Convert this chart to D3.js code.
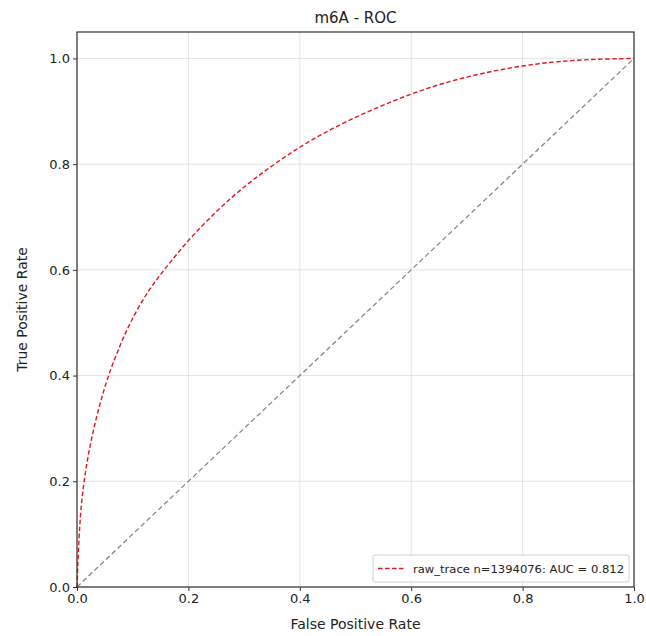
<!DOCTYPE html>
<html>
<head>
<meta charset="utf-8">
<script src="https://cdn.jsdelivr.net/npm/d3@7"></script>
<style>
  html, body { margin: 0; padding: 0; background: #fff; }
  text { font-family: "DejaVu Sans", sans-serif; fill: #222; }
</style>
</head>
<body>
<svg id="chart" width="646" height="636"></svg>
<script>
// ---- data ----
const fpr = [0, 0.001, 0.002, 0.004, 0.007, 0.0125, 0.02, 0.03, 0.042, 0.056, 0.075, 0.095, 0.125, 0.16, 0.20, 0.25, 0.30, 0.35, 0.40, 0.45, 0.50, 0.55, 0.60, 0.65, 0.70, 0.75, 0.80, 0.85, 0.90, 0.95, 1.0];
const tpr = [0, 0.03, 0.055, 0.10, 0.15, 0.20, 0.25, 0.30, 0.35, 0.40, 0.452, 0.50, 0.557, 0.605, 0.657, 0.711, 0.758, 0.797, 0.833, 0.863, 0.889, 0.912, 0.933, 0.951, 0.965, 0.977, 0.986, 0.993, 0.997, 0.999, 1.0];
const chanceX = [0, 1];
const chanceY = [0, 1];
const xTicks = [0, 0.2, 0.4, 0.6, 0.8, 1.0];
const yTicks = [0, 0.2, 0.4, 0.6, 0.8, 1.0];
const title = "m6A - ROC";
const xLabel = "False Positive Rate";
const yLabel = "True Positive Rate";
const legendLabel = "raw_trace n=1394076: AUC = 0.812";

// ---- layout ----
const margin = { left: 77, right: 12, top: 32, bottom: 49 };
const W = 646, H = 636;
const svg = d3.select("#chart");
const x = d3.scaleLinear().domain([0, 1]).range([margin.left, W - margin.right]);
const y = d3.scaleLinear().domain([0, 1.05]).range([H - margin.bottom, margin.top]);

// gridlines
svg.append("g").selectAll("line.gx").data(xTicks).join("line")
  .attr("x1", d => x(d)).attr("x2", d => x(d))
  .attr("y1", y(0)).attr("y2", y(1.05))
  .attr("stroke", "#dcdcdc").attr("stroke-width", 0.8);
svg.append("g").selectAll("line.gy").data(yTicks).join("line")
  .attr("x1", x(0)).attr("x2", x(1))
  .attr("y1", d => y(d)).attr("y2", d => y(d))
  .attr("stroke", "#dcdcdc").attr("stroke-width", 0.8);

// chance line
const line = d3.line().x(d => x(d[0])).y(d => y(d[1]));
svg.append("path")
  .datum(chanceX.map((v, i) => [v, chanceY[i]]))
  .attr("d", line).attr("fill", "none")
  .attr("stroke", "#808080").attr("stroke-width", 1.2)
  .attr("stroke-dasharray", "5,3");

// ROC curve
svg.append("path")
  .datum(fpr.map((v, i) => [v, tpr[i]]))
  .attr("d", d3.line().x(d => x(d[0])).y(d => y(d[1])).curve(d3.curveBasis))
  .attr("fill", "none")
  .attr("stroke", "#e3151d").attr("stroke-width", 1.4)
  .attr("stroke-dasharray", "4.5,2.5");

// axes
const xAxis = d3.axisBottom(x).tickValues(xTicks).tickFormat(d3.format(".1f")).tickSize(4).tickPadding(3);
const yAxis = d3.axisLeft(y).tickValues(yTicks).tickFormat(d3.format(".1f")).tickSize(4).tickPadding(3);
const gx = svg.append("g").attr("transform", `translate(0,${y(0)})`).call(xAxis);
const gy = svg.append("g").attr("transform", `translate(${x(0)},0)`).call(yAxis);
[gx, gy].forEach(g => {
  g.select(".domain").remove();
  g.selectAll("line").attr("stroke", "#333");
  g.selectAll("text").attr("font-size", 13).attr("font-family", "DejaVu Sans").attr("fill", "#222");
});

// frame
svg.append("rect")
  .attr("x", x(0)).attr("y", y(1.05))
  .attr("width", x(1) - x(0)).attr("height", y(0) - y(1.05))
  .attr("fill", "none").attr("stroke", "#333").attr("stroke-width", 1.2);

// title & labels
svg.append("text").attr("x", (x(0) + x(1)) / 2).attr("y", 23)
  .attr("text-anchor", "middle").attr("font-size", 15).text(title);
svg.append("text").attr("x", (x(0) + x(1)) / 2).attr("y", 629)
  .attr("text-anchor", "middle").attr("font-size", 14).text(xLabel);
svg.append("text")
  .attr("transform", `translate(27,${(y(0) + y(1.05)) / 2}) rotate(-90)`)
  .attr("text-anchor", "middle").attr("font-size", 14).text(yLabel);

// legend
const lg = svg.append("g");
const lx = 373, ly = 555, lw = 256, lh = 27;
lg.append("rect").attr("x", lx).attr("y", ly).attr("width", lw).attr("height", lh)
  .attr("rx", 2).attr("fill", "#fff").attr("fill-opacity", 0.85)
  .attr("stroke", "#d0d0d0").attr("stroke-width", 1);
lg.append("line").attr("x1", lx + 5).attr("x2", lx + 32)
  .attr("y1", ly + lh / 2).attr("y2", ly + lh / 2)
  .attr("stroke", "#e3151d").attr("stroke-width", 1.4).attr("stroke-dasharray", "4.5,2.5");
lg.append("text").attr("x", lx + 40).attr("y", ly + lh / 2 + 4)
  .attr("font-size", 11).attr("textLength", 211).attr("lengthAdjust", "spacingAndGlyphs")
  .text(legendLabel);
</script>
</body>
</html>
